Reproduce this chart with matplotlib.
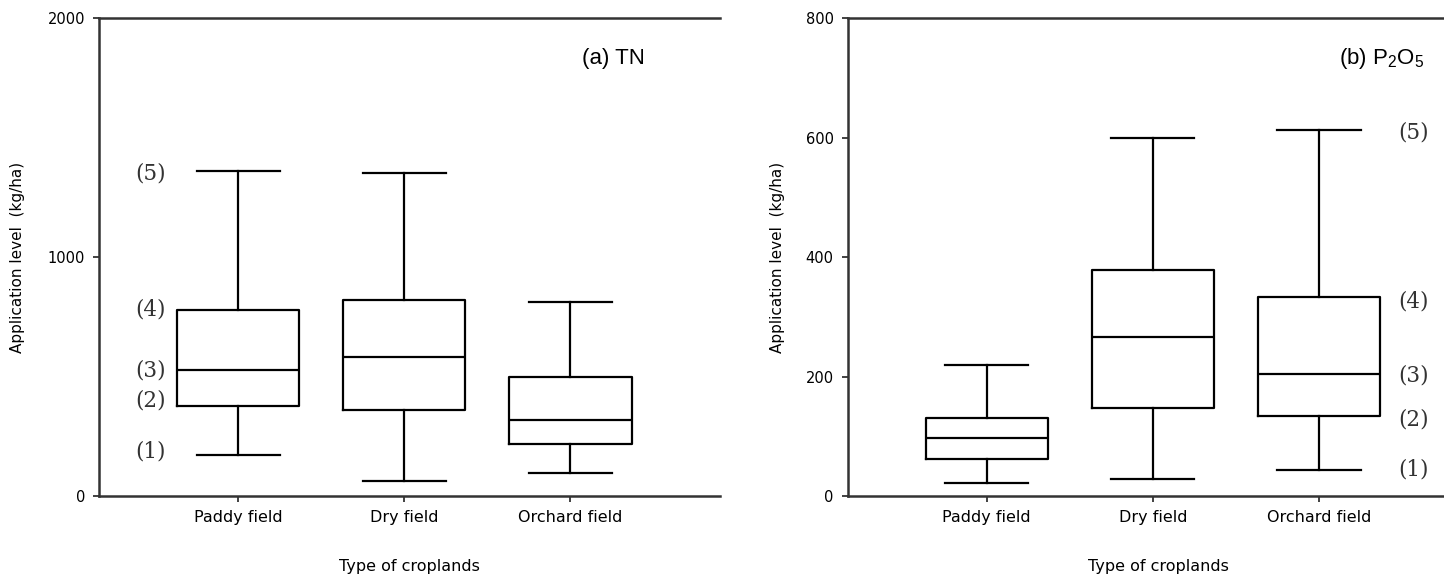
import numpy as np
import matplotlib.pyplot as plt

# ============================================================
# DATA
# ============================================================

croplands = ["Paddy field", "Dry field", "Orchard field"]

# TN application level (kg/ha)
tn_low = [175, 65, 98]
tn_q1 = [378, 363, 218]
tn_med = [530, 585, 321]
tn_q3 = [780, 823, 499]
tn_high = [1362, 1353, 811]

# P2O5 application level (kg/ha)
p_low = [23, 29, 44]
p_q1 = [63, 148, 134]
p_med = [97, 266, 205]
p_q3 = [131, 378, 334]
p_high = [220, 599, 612]

marker_labels = ["(1)", "(2)", "(3)", "(4)", "(5)"]
tn_marker_y = [190, 402, 525, 780, 1350]
p_marker_y = [45, 129, 203, 326, 608]


def make_stats(low, q1, med, q3, high):
    stats = []
    for i in range(len(low)):
        stats.append(dict(
            whislo=low[i],
            q1=q1[i],
            med=med[i],
            q3=q3[i],
            whishi=high[i],
            fliers=[]
        ))
    return stats


def draw_panel(ax, stats, ymax, yticks, title, title_x,
               marker_x, marker_y, ylabel_x):

    line = dict(color="black", linewidth=1.6)

    ax.bxp(
        stats,
        positions=[1, 2, 3],
        widths=0.735,
        capwidths=0.5,
        showfliers=False,
        boxprops=line,
        medianprops=line,
        whiskerprops=line,
        capprops=line
    )

    ax.set_xlim(0.163, 3.9)
    ax.set_ylim(0, ymax)

    ax.set_xticks([1, 2, 3])
    ax.set_xticklabels(croplands, fontsize=11.5)
    ax.set_yticks(yticks)
    ax.set_yticklabels([str(v) for v in yticks], fontsize=10.5)

    ax.tick_params(axis="both", direction="out", length=4,
                   width=1.3, color="#333333", pad=6)

    for side in ["left", "top", "bottom"]:
        ax.spines[side].set_linewidth(1.8)
        ax.spines[side].set_color("#333333")
    ax.spines["right"].set_visible(False)

    ax.set_xlabel("Type of croplands", fontsize=11.5, labelpad=24)
    ax.set_ylabel("Application level  (kg/ha)", fontsize=11)
    ax.yaxis.set_label_coords(ylabel_x, 0.5)

    ax.text(title_x, 0.915, title, transform=ax.transAxes,
            fontsize=16, family="Liberation Sans",
            ha="center", va="center")

    for lab, yv in zip(marker_labels, marker_y):
        ax.text(marker_x, yv, lab, fontsize=15.5,
                family="DejaVu Serif", color="#333333",
                ha="center", va="center")


# ============================================================
# FIGURE
# ============================================================

plt.rcParams["mathtext.fontset"] = "custom"
plt.rcParams["mathtext.rm"] = "Liberation Sans"

fig = plt.figure(figsize=(14.44, 5.8), dpi=100)

ax1 = fig.add_axes([0.0686, 0.144, 0.430, 0.825])
ax2 = fig.add_axes([0.587, 0.144, 0.430, 0.825])

draw_panel(
    ax1,
    make_stats(tn_low, tn_q1, tn_med, tn_q3, tn_high),
    2000,
    [0, 1000, 2000],
    "(a) TN",
    0.829,
    0.47,
    tn_marker_y,
    -0.119
)

draw_panel(
    ax2,
    make_stats(p_low, p_q1, p_med, p_q3, p_high),
    800,
    [0, 200, 400, 600, 800],
    r"(b) P$_\mathregular{2}$O$_\mathregular{5}$",
    0.86,
    3.57,
    p_marker_y,
    -0.101
)

fig.savefig("out.png", dpi=100)
